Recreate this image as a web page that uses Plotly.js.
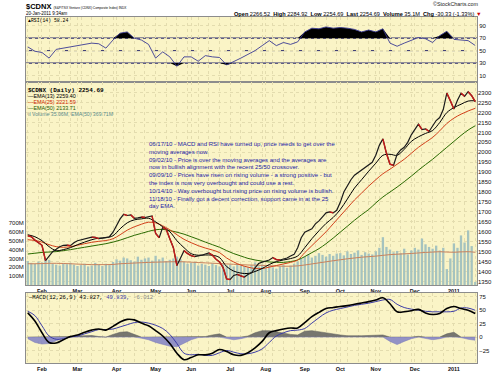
<!DOCTYPE html>
<html><head><meta charset="utf-8">
<script src="https://cdn.plot.ly/plotly-3.0.1.min.js"></script>
<style>html,body{margin:0;padding:0;background:#fff}#chart{width:500px;height:374px}</style>
</head><body><div id="chart"></div>
<script>
// Every 2nd trading day, 20-Jan-2010 .. 20-Jan-2011
const dates = ['2010-01-20','2010-01-22','2010-01-26','2010-01-28','2010-02-01','2010-02-03','2010-02-05','2010-02-09','2010-02-11','2010-02-16','2010-02-18','2010-02-22','2010-02-24','2010-02-26','2010-03-02','2010-03-04','2010-03-08','2010-03-10','2010-03-12','2010-03-16','2010-03-18','2010-03-22','2010-03-24','2010-03-26','2010-03-30','2010-04-01','2010-04-06','2010-04-08','2010-04-12','2010-04-14','2010-04-16','2010-04-20','2010-04-22','2010-04-26','2010-04-28','2010-04-30','2010-05-04','2010-05-06','2010-05-10','2010-05-12','2010-05-14','2010-05-18','2010-05-20','2010-05-25','2010-05-27','2010-05-31','2010-06-02','2010-06-04','2010-06-08','2010-06-10','2010-06-14','2010-06-16','2010-06-18','2010-06-22','2010-06-24','2010-06-28','2010-06-30','2010-07-05','2010-07-07','2010-07-09','2010-07-13','2010-07-15','2010-07-19','2010-07-21','2010-07-23','2010-07-27','2010-07-29','2010-08-03','2010-08-05','2010-08-09','2010-08-11','2010-08-13','2010-08-17','2010-08-19','2010-08-23','2010-08-25','2010-08-27','2010-08-31','2010-09-02','2010-09-07','2010-09-09','2010-09-13','2010-09-15','2010-09-17','2010-09-21','2010-09-23','2010-09-27','2010-09-29','2010-10-01','2010-10-05','2010-10-07','2010-10-12','2010-10-14','2010-10-18','2010-10-20','2010-10-22','2010-10-26','2010-10-28','2010-11-01','2010-11-03','2010-11-05','2010-11-09','2010-11-11','2010-11-15','2010-11-17','2010-11-19','2010-11-23','2010-11-25','2010-11-29','2010-12-01','2010-12-03','2010-12-07','2010-12-09','2010-12-13','2010-12-15','2010-12-17','2010-12-21','2010-12-23','2010-12-29','2010-12-31','2011-01-05','2011-01-07','2011-01-11','2011-01-13','2011-01-17','2011-01-19','2011-01-20'];
const closePrice = [1580,1575,1558,1545,1532,1455,1480,1500,1512,1525,1532,1533,1530,1545,1555,1560,1565,1570,1573,1572,1565,1568,1570,1575,1598,1635,1665,1688,1682,1685,1668,1670,1674,1672,1675,1680,1592,1570,1622,1612,1565,1520,1430,1465,1505,1490,1480,1475,1478,1482,1488,1493,1482,1462,1448,1420,1362,1360,1380,1385,1378,1372,1385,1393,1418,1440,1447,1452,1458,1470,1460,1458,1462,1468,1478,1486,1520,1570,1598,1605,1615,1640,1655,1675,1695,1700,1695,1708,1748,1800,1835,1862,1885,1898,1915,1928,1938,1950,1985,2035,2068,1995,1940,1935,1990,2012,2025,2050,2088,2112,2142,2115,2118,2105,2130,2160,2175,2215,2298,2260,2218,2262,2298,2282,2305,2285,2255];
const volumeM = [270,250,240,265,255,300,285,240,230,220,245,235,250,230,215,225,240,210,220,250,235,215,240,225,260,290,275,310,300,280,265,320,285,300,310,275,330,290,310,270,285,300,320,290,260,240,250,260,220,240,230,215,245,225,210,235,220,230,210,240,220,215,200,225,255,210,230,190,215,200,185,210,225,195,220,240,265,300,320,345,310,330,360,340,320,350,330,355,360,335,380,350,365,390,340,370,355,345,380,420,540,430,400,370,385,360,410,345,390,420,400,525,460,430,410,445,390,420,180,300,470,420,560,480,617,440,35];

// Indicator readings, every 4th trading day
const datesInd = ['2010-01-20','2010-01-26','2010-02-01','2010-02-05','2010-02-11','2010-02-18','2010-02-24','2010-03-02','2010-03-08','2010-03-12','2010-03-18','2010-03-24','2010-03-30','2010-04-06','2010-04-12','2010-04-16','2010-04-22','2010-04-28','2010-05-04','2010-05-10','2010-05-14','2010-05-20','2010-05-27','2010-06-02','2010-06-08','2010-06-14','2010-06-18','2010-06-24','2010-06-30','2010-07-07','2010-07-13','2010-07-19','2010-07-23','2010-07-29','2010-08-05','2010-08-11','2010-08-17','2010-08-23','2010-08-27','2010-09-02','2010-09-09','2010-09-15','2010-09-21','2010-09-27','2010-10-01','2010-10-07','2010-10-14','2010-10-20','2010-10-26','2010-11-01','2010-11-05','2010-11-11','2010-11-17','2010-11-23','2010-11-29','2010-12-03','2010-12-09','2010-12-15','2010-12-21','2010-12-29','2011-01-05','2011-01-11','2011-01-17','2011-01-20'];
const ema13 = [1585,1575,1555,1525,1505,1510,1520,1535,1548,1560,1568,1570,1580,1615,1645,1660,1665,1668,1650,1625,1600,1555,1520,1490,1482,1483,1482,1470,1425,1402,1392,1390,1400,1415,1435,1450,1458,1465,1478,1520,1565,1605,1642,1672,1712,1765,1820,1862,1905,1945,1985,1990,1985,2015,2055,2078,2095,2110,2150,2200,2225,2242,2258,2259.40];
const ema25 = [1560,1556,1548,1535,1525,1522,1525,1532,1540,1547,1552,1556,1565,1585,1608,1625,1638,1648,1645,1630,1610,1585,1562,1545,1530,1518,1508,1495,1468,1448,1432,1422,1415,1415,1422,1430,1438,1446,1458,1495,1530,1565,1600,1640,1680,1720,1760,1795,1830,1862,1892,1915,1940,1965,1995,2025,2050,2075,2108,2145,2172,2192,2208,2221.59];
const ema50 = [1488,1492,1496,1498,1500,1505,1510,1516,1522,1528,1534,1540,1548,1558,1570,1582,1592,1602,1610,1612,1606,1598,1588,1575,1562,1548,1535,1522,1505,1490,1478,1466,1458,1452,1448,1446,1446,1450,1458,1475,1495,1515,1540,1568,1598,1628,1658,1686,1712,1745,1775,1800,1825,1852,1880,1910,1938,1965,1995,2025,2055,2085,2112,2133.71];
const volEma50 = [240,240,242,245,245,243,240,236,233,230,230,230,232,240,244,248,252,255,258,260,262,263,262,258,254,250,246,242,238,234,230,226,224,222,218,214,212,212,216,226,238,250,262,274,285,296,305,314,320,326,335,343,348,352,356,362,368,372,376,372,370,374,376,369.71];
const rsi14 = [56,49,47,38,52,54,57,58,61,62,61,54,67,78,80,70,67,60,38,48,40,25,40,40,33,42,40,39,27,32,38,44,50,58,66,58,63,60,64,80,86,85,88,86,87,86,84,80,83,80,85,62,57,62,67,71,69,63,74,81,68,67,66,58.24];
const macdLine = [45,30,8,-10,-11,-5,1,4,9,13,15,13,20,28,33,32,26,21,12,2,-12,-30,-42,-38,-33,-33,-30,-23,-27,-33,-34,-29,-20,-8,8,12,15,17,17,27,38,46,53,55,57,58.5,61,63.5,66,69,73,62,47,47,49,51.5,45,42,44,53,57,53,50,43.827];
const signalLine = [48,40,21,2,-4,-3,0,2,6,10,14,14,15,19,23,27,28,26,22,16,5,-12,-30,-33,-32,-34,-34,-29,-25,-28,-31,-31,-28,-22,-10,2,8,12,13,16,26,36,45,50,53,56,59,61,63,66,69,70,61,55,52,50,48,47,47,47,48,54,54,49.839];
const macdHist = [-3,-10,-13,-12,-7,-2,1,2,3,3,1,-1,5,9,10,5,-2,-5,-10,-14,-17,-18,-12,-5,-1,1,4,6,-2,-5,-3,2,8,12,12,10,7,5,4,11,12,10,8,5,4,2.5,2,2.5,3,3,4,-8,-14,-8,-3,1.5,-3,-5,-3,6,9,-1,-4,-6.012];

const monthTickDates = ['2010-02-01','2010-03-02','2010-04-01','2010-05-04','2010-06-02','2010-07-05','2010-08-03','2010-09-02','2010-10-01','2010-11-01','2010-12-01','2011-01-05'];
const monthTickText = ['Feb','Mar','Apr','May','Jun','Jul','Aug','Sep','Oct','Nov','Dec','2011'];
const priceTicks = [1350,1400,1450,1500,1550,1600,1650,1700,1750,1800,1850,1900,1950,2000,2050,2100,2150,2200,2250,2300];
const volTicks = [100,200,300,400,500,600,700];
const volTickText = ['100M','200M','300M','400M','500M','600M','700M'];
const rsiTicks = [10,30,50,70,90];
const rsiLevels = [70,50,30];
const macdTicks = [-25,0,25,50,75];

const SANS = 'Liberation Sans, Arial, sans-serif';
const MONO = 'Liberation Mono, Courier New, monospace';

// vertical grid roughly weekly + month starts
const gridSet = new Set(dates.filter((d,i)=>i%3===0).concat(monthTickDates));
const tickvals = dates.filter(d=>gridSet.has(d));
const ticktext = tickvals.map(d=>{const j=monthTickDates.indexOf(d);return j>=0?'<b>'+monthTickText[j]+'</b>':'';});

// down-closes drawn red (StockCharts colours a bar red when it closes below the prior close)
const downX = [], downY = [];
closePrice.forEach((v,i)=>{ if(i>0 && v<closePrice[i-1]){ downX.push(dates[i-1],dates[i],dates[i]); downY.push(closePrice[i-1],v,null); } });

const gridCol = '#e3dcae';
const xCommon = {type:'category', categoryorder:'array', categoryarray:dates, range:[-0.5, dates.length-0.5],
  tickvals:tickvals, ticktext:ticktext, showgrid:true, gridcolor:gridCol, griddash:'dot', gridwidth:1,
  ticks:'', showline:true, mirror:true, linecolor:'#8c8c8c', linewidth:1, zeroline:false,
  tickfont:{family:SANS, size:5.5, color:'#111'}, fixedrange:true};
const yCommon = {ticks:'', showline:true, mirror:true, linecolor:'#8c8c8c', linewidth:1, zeroline:false,
  showgrid:true, gridcolor:gridCol, griddash:'dot', gridwidth:1, tickfont:{family:SANS, size:6, color:'#111'}, fixedrange:true};

const traces = [
  // RSI panel
  {x:datesInd, y:datesInd.map(()=>70), xaxis:'x', yaxis:'y', mode:'lines', line:{width:0}, hoverinfo:'skip'},
  {x:datesInd, y:rsi14.map(v=>Math.max(v,70)), xaxis:'x', yaxis:'y', mode:'lines', line:{width:0}, fill:'tonexty', fillcolor:'#000'},
  {x:datesInd, y:datesInd.map(()=>30), xaxis:'x', yaxis:'y', mode:'lines', line:{width:0}, hoverinfo:'skip'},
  {x:datesInd, y:rsi14.map(v=>Math.min(v,30)), xaxis:'x', yaxis:'y', mode:'lines', line:{width:0}, fill:'tonexty', fillcolor:'#000'},
  {x:datesInd, y:rsi14, xaxis:'x', yaxis:'y', mode:'lines', line:{color:'#3a3a94', width:0.9}},
  // volume (base axis of price panel)
  {type:'bar', x:dates, y:volumeM, xaxis:'x2', yaxis:'y2', marker:{color:'#a5c3bf', line:{width:0}}},
  {x:datesInd, y:volEma50, xaxis:'x2', yaxis:'y2', mode:'lines', line:{color:'#c8825e', width:1, shape:'spline'}},
  // price overlay
  {x:datesInd, y:ema50, xaxis:'x2', yaxis:'y3', mode:'lines', line:{color:'#2a6a00', width:1, shape:'spline'}},
  {x:datesInd, y:ema25, xaxis:'x2', yaxis:'y3', mode:'lines', line:{color:'#d2401a', width:1, shape:'spline'}},
  {x:datesInd, y:ema13, xaxis:'x2', yaxis:'y3', mode:'lines', line:{color:'#000', width:1, shape:'spline'}},
  {x:dates, y:closePrice, xaxis:'x2', yaxis:'y3', mode:'lines', line:{color:'#1a1a1a', width:1.2}},
  {x:downX, y:downY, xaxis:'x2', yaxis:'y3', mode:'lines', connectgaps:false, line:{color:'#c81a1a', width:1.4}},
  // MACD panel
  {x:datesInd, y:macdHist.map(v=>Math.max(v,0)), xaxis:'x3', yaxis:'y4', mode:'lines', line:{color:'#5a5a5a', width:0.5}, fill:'tozeroy', fillcolor:'rgba(95,95,95,0.85)'},
  {x:datesInd, y:macdHist.map(v=>Math.min(v,0)), xaxis:'x3', yaxis:'y4', mode:'lines', line:{color:'#7a7ab8', width:0.5}, fill:'tozeroy', fillcolor:'rgba(128,128,196,0.85)'},
  {x:datesInd, y:signalLine, xaxis:'x3', yaxis:'y4', mode:'lines', line:{color:'#3d3da8', width:1, shape:'spline'}},
  {x:datesInd, y:macdLine, xaxis:'x3', yaxis:'y4', mode:'lines', line:{color:'#000', width:1.6, shape:'spline'}}
];

const P = (px)=> (px-26)/451;
const Q = (py)=> (363-py)/346;

const shapes = rsiLevels.map(v=>({type:'line', xref:'paper', x0:0, x1:1, yref:'y', y0:v, y1:v,
  line:{color:'#2c2c6e', width: v===50?1:1.4, dash: v===50?'dashdot':'solid'}, layer:'below'}));

const ann = (x,y,text,opts)=>Object.assign({xref:'paper', yref:'paper', x:x, y:y, text:text, showarrow:false,
  xanchor:'left', yanchor:'middle', borderpad:0, font:{family:SANS, size:5.4, color:'#000'}}, opts||{});

const annotations = [
  ann(P(25), Q(6.5), '<b>$CDNX</b> <span style="font-size:3.2px">(S&amp;P/TSX Venture (CDNX) Composite Index) INDX</span>', {font:{family:SANS, size:7.5, color:'#000'}}),
  ann(P(25), Q(13.5), '20-Jan-2011 9:34am', {font:{family:SANS, size:4.5, color:'#000'}}),
  ann(P(482), Q(13.5), '<b>Open</b> 2266.52  <b>High</b> 2284.92  <b>Low</b> 2254.69  <b>Last</b> 2254.69  <b>Volume</b> 35.1M  <b>Chg</b> -30.33 (-1.33%) <span style="color:#cc0000">▼</span>', {xanchor:'right', font:{family:SANS, size:5.6, color:'#000'}}),
  ann(P(480), Q(4.5), '©StockCharts.com', {xanchor:'right', font:{family:SANS, size:5.4, color:'#222'}}),
  ann(P(27), Q(20.5), '▲RSI(14) 58.24', {font:{family:MONO, size:4.8, color:'#000'}}),
  ann(P(27), Q(90), '<b>$CDNX (Daily) 2254.69</b>', {font:{family:MONO, size:6, color:'#000'}}),
  ann(P(27), Q(96), '—EMA(13) 2259.40', {font:{family:SANS, size:5.4, color:'#000'}}),
  ann(P(27), Q(102.3), '—EMA(25) 2221.59', {font:{family:SANS, size:5.4, color:'#cc2a00'}}),
  ann(P(27), Q(108.3), '—EMA(50) 2133.71', {font:{family:SANS, size:5.4, color:'#1f5a00'}}),
  ann(P(27), Q(113.5), 'ıl Volume 35.06M, EMA(50) 369.71M', {font:{family:SANS, size:5.2, color:'#5a8c8c'}}),
  ann(P(148), Q(140.3), '06/17/10 - MACD and RSI have turned up, price needs to get over the<br>moving averages now.<br>09/02/10 - Price is over the moving averages and the averages are<br>now in bullish alignment with the recent 25/50 crossover.<br>09/09/10 - Prices have risen on rising volume - a strong positive - but<br>the index is now very overbought and could use a rest.<br>10/14/10 - Way overbought but rising price on rising volume is bullish.<br>11/18/10 - Finally got a decent correction, support came in at the 25<br>day EMA.',
      {yanchor:'top', align:'left', font:{family:SANS, size:6, color:'#1c1ca6'}}),
  ann(P(27), Q(297.5), '—MACD(12,26,9) 43.827, <span style="color:#3a3aa8">49.839,</span> <span style="color:#888">-6.012</span>', {font:{family:MONO, size:5.6, color:'#000'}})
];

const layout = {
  width:500, height:374, margin:{l:26, r:23, t:17, b:11, pad:0},
  paper_bgcolor:'#ffffff', plot_bgcolor:'#faf4c6', showlegend:false, bargap:0.35,
  xaxis: Object.assign({}, xCommon, {anchor:'y', showticklabels:false}),
  xaxis2: Object.assign({}, xCommon, {anchor:'y2', matches:'x', showticklabels:true}),
  xaxis3: Object.assign({}, xCommon, {anchor:'y4', matches:'x', showticklabels:true}),
  yaxis: Object.assign({}, yCommon, {domain:[0.81214,1], range:[-0.3,103.9], side:'right', tickvals:rsiTicks, anchor:'x'}),
  yaxis2: Object.assign({}, yCommon, {domain:[0.22543,0.81214], range:[0,2293], side:'left', tickvals:volTicks, ticktext:volTickText, showgrid:false, anchor:'x2'}),
  yaxis3: Object.assign({}, yCommon, {domain:[0.22543,0.81214], range:[1332,2354], side:'right', tickvals:priceTicks, overlaying:'y2', anchor:'x2', showline:false}),
  yaxis4: Object.assign({}, yCommon, {domain:[0,0.20231], range:[-48.2,82], side:'right', tickvals:macdTicks, anchor:'x3'}),
  shapes: shapes,
  annotations: annotations
};

Plotly.newPlot('chart', traces, layout, {displayModeBar:false, staticPlot:true});
</script>
</body></html>
